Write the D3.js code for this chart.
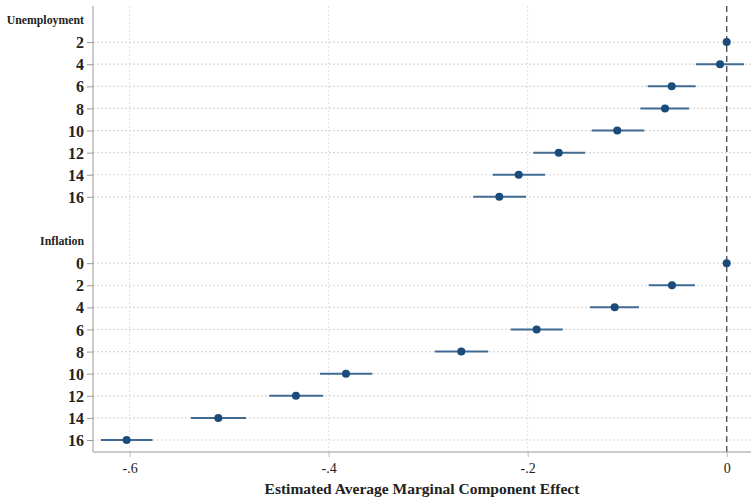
<!DOCTYPE html>
<html><head><meta charset="utf-8">
<script src="https://cdn.jsdelivr.net/npm/d3@7"></script>
<style>body{margin:0;background:#fff}svg{display:block}</style>
</head><body><svg id="c" width="751" height="500"></svg>
<script>
// Rows (top to bottom): group header, levels, spacer
const groups = ["Unemployment", "Inflation"];
const unempLevels = ["2","4","6","8","10","12","14","16"];
const unempEst  = [0, -0.0067, -0.0553, -0.0620, -0.1100, -0.1688, -0.2090, -0.2285];
const unempLow  = [null, -0.0310, -0.0794, -0.0868, -0.1357, -0.1944, -0.2352, -0.2547];
const unempHigh = [null, 0.0174, -0.0312, -0.0379, -0.0828, -0.1424, -0.1826, -0.2017];
const inflLevels = ["0","2","4","6","8","10","12","14","16"];
const inflEst  = [0, -0.0550, -0.1126, -0.1910, -0.2667, -0.3826, -0.4329, -0.5109, -0.6030];
const inflLow  = [null, -0.0784, -0.1374, -0.2170, -0.2932, -0.4088, -0.4597, -0.5384, -0.6290];
const inflHigh = [null, -0.0319, -0.0881, -0.1648, -0.2396, -0.3562, -0.4054, -0.4831, -0.5770];
const xTicks = [-0.6, -0.4, -0.2, 0];
const xTickLabels = ["-.6", "-.4", "-.2", "0"];
const xTitle = "Estimated Average Marginal Component Effect";

// build row table
const rows = [];
rows.push({type:"header", label: groups[0]});
unempLevels.forEach((l,i)=>rows.push({type:"level", label:l, est:unempEst[i], lo:unempLow[i], hi:unempHigh[i]}));
rows.push({type:"spacer", label:""});
rows.push({type:"header", label: groups[1]});
inflLevels.forEach((l,i)=>rows.push({type:"level", label:l, est:inflEst[i], lo:inflLow[i], hi:inflHigh[i]}));
rows.forEach((r,i)=>r.id="r"+i);

const svg = d3.select("#c");
const L = 93, R = 751, T = 6, B = 452;
const x = d3.scaleLinear().domain([-0.6368, 0.0244]).range([L, R]);
const y = d3.scalePoint().domain(rows.map(r=>r.id)).range([20, 440]);

const serif = "'Liberation Serif', 'DejaVu Serif', serif";

// vertical grid
svg.append("g").selectAll("line").data(xTicks.filter(v=>v!==0)).join("line")
  .attr("x1", d=>x(d)).attr("x2", d=>x(d)).attr("y1", T).attr("y2", B)
  .attr("stroke", "#e2e2e2").attr("stroke-width", 1).attr("stroke-dasharray", "2,2");

// horizontal grid at level rows
const levelRows = rows.filter(r=>r.type==="level");
svg.append("g").selectAll("line").data(levelRows).join("line")
  .attr("x1", L).attr("x2", R).attr("y1", d=>y(d.id)).attr("y2", d=>y(d.id))
  .attr("stroke", "#d8d8d8").attr("stroke-width", 1.2).attr("stroke-dasharray", "2,2");

// zero reference line
svg.append("line").attr("x1", x(0)).attr("x2", x(0)).attr("y1", T).attr("y2", B)
  .attr("stroke", "#555").attr("stroke-width", 1.4).attr("stroke-dasharray", "6,4");

// y axis
const yAxis = d3.axisLeft(y).tickSize(6).tickFormat(()=> "");
const gy = svg.append("g").attr("transform", `translate(${L},0)`).call(yAxis);
gy.select(".domain").attr("stroke", "#999").attr("d", `M0,${T}V${B}`);
gy.selectAll(".tick").filter(d=>rows.find(r=>r.id===d).type!=="level").remove();
gy.selectAll(".tick line").attr("stroke", "#999");
gy.selectAll(".tick").append("text")
  .attr("x", -9).attr("dy", "0.35em").attr("text-anchor", "end")
  .attr("fill", "#222").attr("font-family", serif).attr("font-weight", "bold").attr("font-size", 16)
  .text(d=>rows.find(r=>r.id===d).label);

// group headers
svg.append("g").selectAll("text").data(rows.filter(r=>r.type==="header")).join("text")
  .attr("x", 84).attr("y", d=>y(d.id)).attr("dy", "0.35em").attr("text-anchor", "end")
  .attr("fill", "#222").attr("font-family", serif).attr("font-weight", "bold").attr("font-size", 11.8)
  .text(d=>d.label);

// x axis
const xAxis = d3.axisBottom(x).tickValues(xTicks).tickSize(5).tickFormat((d,i)=>xTickLabels[i]);
const gx = svg.append("g").attr("transform", `translate(0,${B})`).call(xAxis);
gx.select(".domain").attr("stroke", "#999").attr("d", `M${L},0H${R}`);
gx.selectAll(".tick line").attr("stroke", "#bbb");
gx.selectAll(".tick text").attr("fill", "#222").attr("font-family", serif).attr("font-size", 14).attr("dy", "0.9em");

svg.append("text").attr("x", 422).attr("y", 494).attr("text-anchor", "middle")
  .attr("fill", "#222").attr("font-family", serif).attr("font-weight", "bold").attr("font-size", 15.5)
  .text(xTitle);

// CIs
svg.append("g").selectAll("line").data(levelRows.filter(r=>r.lo!==null)).join("line")
  .attr("x1", d=>x(d.lo)).attr("x2", d=>x(d.hi)).attr("y1", d=>y(d.id)).attr("y2", d=>y(d.id))
  .attr("stroke", "#3f6b93").attr("stroke-width", 2);

// points
svg.append("g").selectAll("circle").data(levelRows).join("circle")
  .attr("cx", d=>x(d.est)).attr("cy", d=>y(d.id)).attr("r", 4)
  .attr("fill", "#1b4b7a");
</script>
</body></html>
